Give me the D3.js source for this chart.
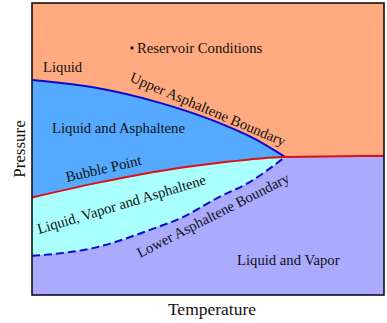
<!DOCTYPE html>
<html>
<head>
<meta charset="utf-8">
<script src="https://cdn.jsdelivr.net/npm/d3@7"></script>
<style>
  body { margin: 0; background: #fff; }
  text { font-family: "Liberation Serif", "Times New Roman", serif; fill: #111; }
</style>
</head>
<body>
<div id="chart"></div>
<script>
// phase boundaries, [temperature, pressure] in arbitrary units (0-100)
var upperBoundary = [[0, 73.6], [18.5, 70.9], [36.4, 65.8], [52.6, 59.2], [63.4, 53.4], [71.9, 47.3]];
var bubblePoint = [[0, 33.4], [18.5, 38.4], [36.4, 42.5], [52.6, 45.2], [71.9, 47.3], [100, 47.6]];
var lowerBoundary = [[0, 13.4], [18.5, 16.4], [33.5, 22.3], [42.9, 26.7], [52.6, 33.2], [61.9, 38.7], [71.9, 47.3]];
var reservoir = [[28.4, 84.6]];

var width = 387, height = 323;
var margin = { top: 3, right: 3, bottom: 28, left: 32 };

const svg = d3
  .select("#chart")
  .append("svg")
  .attr("width", width)
  .attr("height", height);

const x = d3.scaleLinear().domain([0, 100]).range([margin.left, width - margin.right]);
const y = d3.scaleLinear().domain([0, 100]).range([height - margin.bottom, margin.top]);

const line = d3.line()
  .x(d => x(d[0]))
  .y(d => y(d[1]))
  .curve(d3.curveMonotoneX);

const areaBelow = d3.area()
  .x(d => x(d[0]))
  .y0(y(0))
  .y1(d => y(d[1]))
  .curve(d3.curveMonotoneX);

// background (liquid)
svg.append("rect")
  .attr("x", x(0)).attr("y", y(100))
  .attr("width", x(100) - x(0)).attr("height", y(0) - y(100))
  .style("fill", "#ffaa80");

// liquid and asphaltene
svg.append("path").attr("d", areaBelow(upperBoundary)).style("fill", "#55aaff");

// liquid, vapor and asphaltene
svg.append("path").attr("d", areaBelow(bubblePoint)).style("fill", "#aaffff");

// liquid and vapor
var cusp = lowerBoundary[lowerBoundary.length - 1][0];
svg.append("clipPath").attr("id", "rightClip")
  .append("rect")
  .attr("x", x(cusp)).attr("y", y(100))
  .attr("width", x(100) - x(cusp)).attr("height", y(0) - y(100));
svg.append("path").attr("d", areaBelow(bubblePoint))
  .attr("clip-path", "url(#rightClip)")
  .style("fill", "#aaaaff");
svg.append("path").attr("d", areaBelow(lowerBoundary)).style("fill", "#aaaaff");

// boundary lines
svg.append("path").attr("d", line(upperBoundary))
  .style("fill", "none").style("stroke", "#0a0ad0").attr("stroke-width", 2);
svg.append("path").attr("d", line(lowerBoundary))
  .style("fill", "none").style("stroke", "#0a0ad0").attr("stroke-width", 2)
  .attr("stroke-dasharray", "8,4");
svg.append("path").attr("d", line(bubblePoint))
  .style("fill", "none").style("stroke", "#e01010").attr("stroke-width", 2);

// frame
svg.append("rect")
  .attr("x", x(0)).attr("y", y(100))
  .attr("width", x(100) - x(0)).attr("height", y(0) - y(100))
  .style("fill", "none").style("stroke", "#111").attr("stroke-width", 1.6);

// reservoir conditions point
svg.selectAll("circle.res")
  .data(reservoir)
  .join("circle")
  .attr("class", "res")
  .attr("cx", d => x(d[0]))
  .attr("cy", d => y(d[1]))
  .attr("r", 1.6)
  .style("fill", "#111");

// labels
function label(txt, tx, ty, rot, size) {
  svg.append("text")
    .attr("transform", `translate(${tx},${ty}) rotate(${rot || 0})`)
    .style("font-size", (size || 14.7) + "px")
    .text(txt);
}
label("Liquid", 43, 72);
label("Reservoir Conditions", 137, 52.5);
label("Liquid and Asphaltene", 52, 133);
label("Upper Asphaltene Boundary", 129, 81, 23);
label("Bubble Point", 67, 182, -13);
label("Liquid, Vapor and Asphaltene", 39, 234, -16.6);
label("Lower Asphaltene Boundary", 140, 258, -27);
label("Liquid and Vapor", 237, 265);

svg.append("text")
  .attr("x", (x(0) + x(100)) / 2 + 4)
  .attr("y", 315)
  .style("text-anchor", "middle")
  .style("font-size", "17.5px")
  .text("Temperature");

svg.append("text")
  .attr("transform", `translate(25,${(y(0) + y(100)) / 2}) rotate(-90)`)
  .style("text-anchor", "middle")
  .style("font-size", "17px")
  .text("Pressure");
</script>
</body>
</html>
